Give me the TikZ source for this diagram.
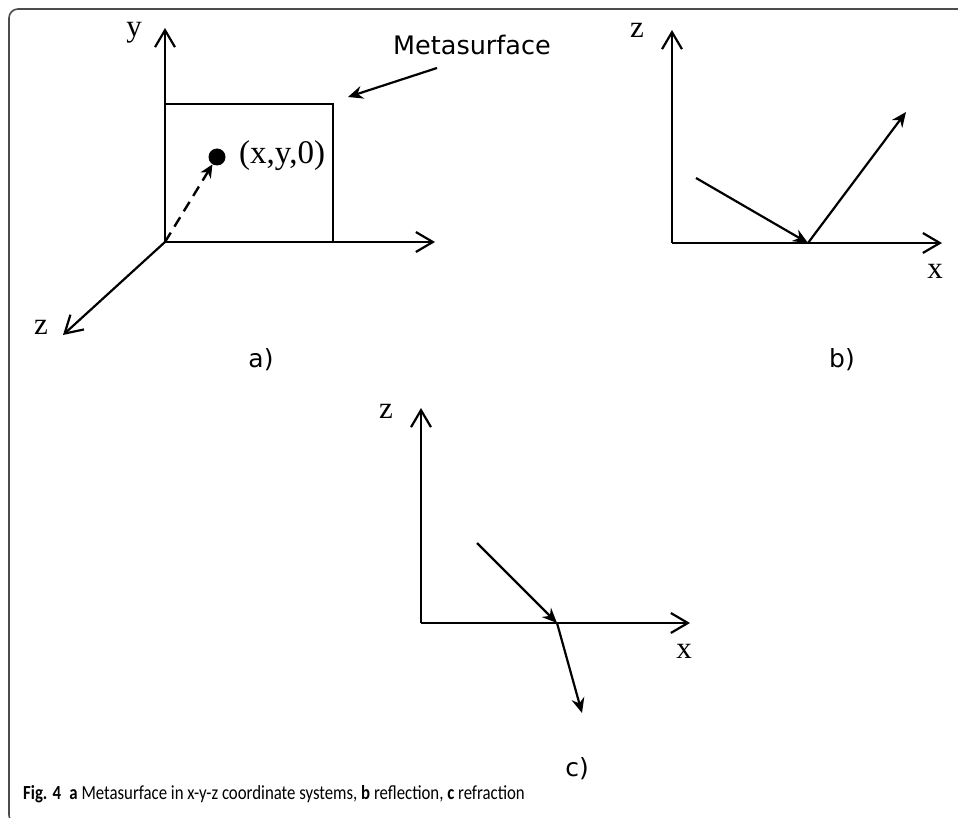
\documentclass[tikz,border=0pt]{standalone}
\usepackage{fontspec}
\setmainfont{Liberation Serif}
\setsansfont{DejaVu Sans}
\newfontfamily\captionfont{Carlito}
\usetikzlibrary{arrows.meta}

\begin{document}
\begin{tikzpicture}[
        x=1pt, y=-1pt,
        every node/.style={inner sep=0pt},
        axis/.style={line width=2.2pt, -{Straight Barb[length=17pt, width=20pt]}},
        ray/.style={line width=2.2pt, -{Stealth[length=15pt, width=13pt, inset=5pt]}},
        axlabel/.style={anchor=base, font=\fontsize{31}{31}\selectfont},
        panellabel/.style={anchor=base, font=\sffamily\fontsize{25}{25}\selectfont}
    ]
    \useasboundingbox (0,0) rectangle (958,818);
    \clip (0,0) rectangle (958,818);
    \draw[line width=1.6pt, black!70, rounded corners=9pt] (990,9) -- (9,9) -- (9,824) -- (40,824);

    \coordinate (oa) at (165,242);
    \coordinate (ya) at (165,28);
    \coordinate (xa) at (435,242);
    \coordinate (za) at (63,335);
    \coordinate (sa) at (333,104);
    \draw[axis] (oa) -- (ya);
    \draw[axis] (oa) -- (xa);
    \draw[axis] (oa) -- (za);
    \draw[line width=2.2pt] (oa) rectangle (sa);
    \node[axlabel] (ylab) at (134,37) {y};
    \node[axlabel] (zlaba) at (41,334) {z};
    \node[circle, fill, minimum size=17pt] (pt) at (217,157) {};
    \node[anchor=base west, font=\fontsize{33}{33}\selectfont] (ptlab) at (239,164) {(x,y,0)};
    \draw[line width=2.4pt, dash pattern=on 11pt off 7pt, -{Stealth[length=13pt, width=12pt, inset=4pt]}] (oa) -- (pt);
    \node[anchor=base west, font=\sffamily\fontsize{25.5}{25.5}\selectfont] (meta) at (393,55) {Metasurface};
    \coordinate (mstart) at (437,68);
    \coordinate (mtip) at (348,97);
    \draw[ray] (mstart) -- (mtip);
    \node[panellabel] (laba) at (261,367) {a)};

    \coordinate (ob) at (672,243);
    \coordinate (zb) at (672,30);
    \coordinate (xb) at (942,243);
    \coordinate (hitb) at (808,243);
    \coordinate (inb) at (696,178);
    \coordinate (outb) at (906,112);
    \draw[axis] (ob) -- (zb);
    \draw[axis] (ob) -- (xb);
    \draw[ray] (inb) -- (hitb);
    \draw[ray] (hitb) -- (outb);
    \node[axlabel] (zlabb) at (637,38) {z};
    \node[axlabel] (xlabb) at (935,279) {x};
    \node[panellabel] (labb) at (842,367) {b)};

    \coordinate (oc) at (421,623);
    \coordinate (zc) at (421,408);
    \coordinate (xc) at (690,623);
    \coordinate (hitc) at (557,623);
    \coordinate (inc) at (477,543);
    \coordinate (outc) at (582,713);
    \draw[axis] (oc) -- (zc);
    \draw[axis] (oc) -- (xc);
    \draw[ray] (inc) -- (hitc);
    \draw[ray] (hitc) -- (outc);
    \node[axlabel] (zlabc) at (386,418) {z};
    \node[axlabel] (xlabc) at (684,658) {x};
    \node[panellabel] (labc) at (577,776) {c)};

    \node[anchor=base west, xscale=0.84, font=\captionfont\fontsize{20}{20}\selectfont] (cap) at (23,799)
        {\textbf{Fig. 4}\hspace{0.5em}\textbf{a} Metasurface in x-y-z coordinate systems, \textbf{b} reflection, \textbf{c} refraction};
\end{tikzpicture}
\end{document}
